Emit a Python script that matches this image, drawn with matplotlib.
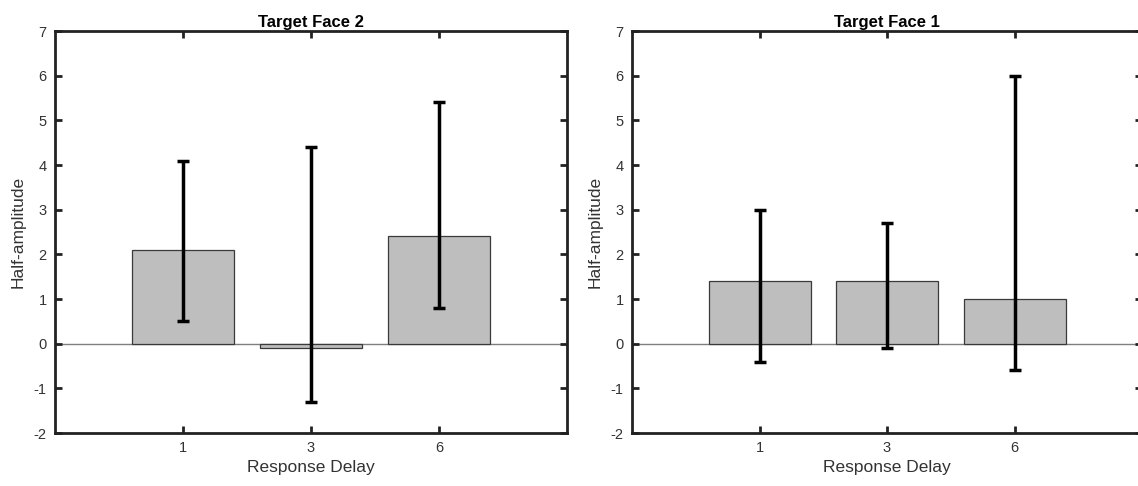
import matplotlib
matplotlib.use("Agg")
import matplotlib.pyplot as plt
import numpy as np

plt.rcParams['font.family'] = ['Liberation Sans', 'DejaVu Sans']
plt.rcParams['axes.unicode_minus'] = False

categories = ["1", "3", "6"]
titles = ["Target Face 2", "Target Face 1"]
means = [[2.1, -0.1, 2.4], [1.4, 1.4, 1.0]]
err_low = [[0.5, -1.3, 0.8], [-0.4, -0.1, -0.6]]
err_high = [[4.1, 4.4, 5.4], [3.0, 2.7, 6.0]]
yticks = [-2, -1, 0, 1, 2, 3, 4, 5, 6, 7]

W, H = 1138, 486
fig = plt.figure(figsize=(W / 100, H / 100), dpi=100)
lefts = [55, 632]
widths = [512, 510]
for i in range(2):
    ax = fig.add_axes([lefts[i] / W, (H - 433) / H, widths[i] / W, 402 / H])
    x = np.arange(1, len(categories) + 1)
    m = np.array(means[i])
    lo = m - np.array(err_low[i])
    hi = np.array(err_high[i]) - m
    ax.axhline(0, color='#7f7f7f', lw=1.0, zorder=1)
    ax.bar(x, m, width=0.8, color='#bebebe', edgecolor='#3a3a3a', linewidth=0.9, zorder=2)
    ax.errorbar(x, m, yerr=[lo, hi], fmt='none', ecolor='black', elinewidth=2.5,
                capsize=4, capthick=2.5, zorder=3)
    ax.set_xlim(0, 4)
    ax.set_ylim(-2, 7)
    ax.set_xticks(x)
    ax.set_xticklabels(categories)
    ax.set_yticks(yticks)
    ax.tick_params(direction='in', top=True, right=True, length=5, width=2,
                   labelsize=10.5, labelcolor='#333333', color='#222222', pad=6)
    for s in ax.spines.values():
        s.set_linewidth(2)
        s.set_color('#222222')
    ax.set_title(titles[i], fontsize=12, fontweight='bold', pad=3)
    ax.set_xlabel("Response Delay", fontsize=12.5, color='#333333', labelpad=3)
    ax.set_ylabel("Half-amplitude", fontsize=12.5, color='#333333', labelpad=6)

fig.savefig("out.png", dpi=100)
